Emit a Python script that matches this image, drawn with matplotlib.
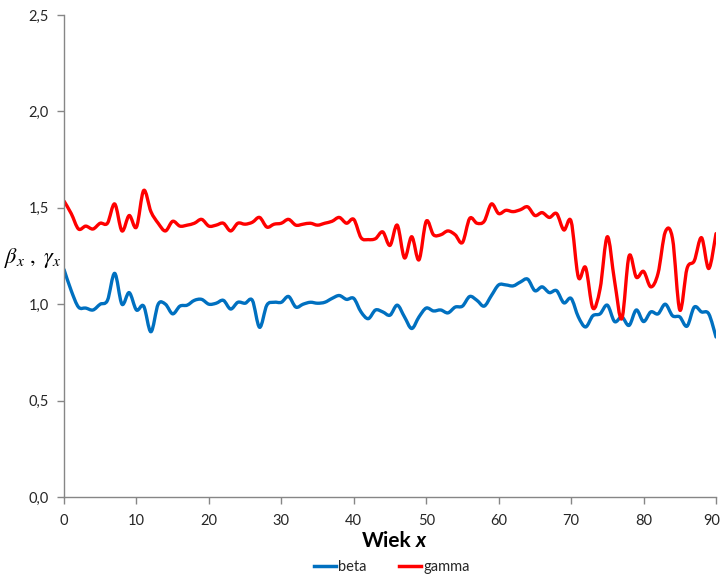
import numpy as np
import matplotlib
matplotlib.use("Agg")
import matplotlib.pyplot as plt
import matplotlib.transforms as mtransforms
from matplotlib.path import Path
from matplotlib.patches import PathPatch
from matplotlib.lines import Line2D
from matplotlib.ticker import FuncFormatter

ages = list(range(0, 91))

beta = [1.18, 1.07, 0.985, 0.98, 0.97, 1.00, 1.02, 1.16, 1.00, 1.06,
        0.97, 0.99, 0.857, 1.00, 1.00, 0.95, 0.99, 0.995, 1.02, 1.025,
        1.00, 1.005, 1.02, 0.975, 1.01, 1.005, 1.02, 0.88, 0.995, 1.01,
        1.01, 1.04, 0.985, 1.00, 1.01, 1.005, 1.01, 1.03, 1.045, 1.025,
        1.03, 0.96, 0.925, 0.97, 0.96, 0.943, 0.995, 0.934, 0.874, 0.934,
        0.98, 0.965, 0.97, 0.955, 0.985, 0.99, 1.04, 1.02, 0.99, 1.045,
        1.10, 1.10, 1.095, 1.115, 1.13, 1.07, 1.09, 1.06, 1.07, 1.007,
        1.03, 0.934, 0.882, 0.94, 0.95, 0.995, 0.91, 0.934, 0.89, 0.97,
        0.91, 0.96, 0.95, 1.00, 0.94, 0.934, 0.886, 0.985, 0.96, 0.95,
        0.83]

gamma = [1.535, 1.47, 1.39, 1.405, 1.39, 1.42, 1.42, 1.52, 1.38, 1.46,
         1.40, 1.59, 1.48, 1.42, 1.38, 1.43, 1.405, 1.41, 1.42, 1.44,
         1.405, 1.41, 1.42, 1.38, 1.42, 1.415, 1.425, 1.45, 1.40, 1.415,
         1.42, 1.44, 1.41, 1.415, 1.42, 1.41, 1.42, 1.43, 1.45, 1.42,
         1.44, 1.345, 1.335, 1.34, 1.375, 1.305, 1.41, 1.24, 1.35, 1.23,
         1.43, 1.36, 1.36, 1.38, 1.36, 1.32, 1.445, 1.42, 1.43, 1.52,
         1.47, 1.487, 1.48, 1.49, 1.505, 1.46, 1.475, 1.45, 1.47, 1.385,
         1.43, 1.14, 1.19, 0.98, 1.08, 1.35, 1.12, 0.925, 1.25, 1.14,
         1.17, 1.09, 1.16, 1.375, 1.34, 0.97, 1.185, 1.225, 1.345, 1.185,
         1.366]

x_ticks = [0, 10, 20, 30, 40, 50, 60, 70, 80, 90]
y_ticks = [0.0, 0.5, 1.0, 1.5, 2.0, 2.5]

BLUE = "#0070C0"
RED = "#FF0000"
AXIS_GREY = "#868686"
TEXT = "#262626"
FONT = "Lato"


def smooth_path(xs, ys, tension=1.0 / 6.0):
    """Catmull-Rom style smoothed curve expressed as cubic Bezier segments."""
    xs = np.asarray(xs, float)
    ys = np.asarray(ys, float)
    n = len(xs)
    verts = [(xs[0], ys[0])]
    codes = [Path.MOVETO]
    for i in range(n - 1):
        p0 = np.array([xs[max(i - 1, 0)], ys[max(i - 1, 0)]])
        p1 = np.array([xs[i], ys[i]])
        p2 = np.array([xs[i + 1], ys[i + 1]])
        p3 = np.array([xs[min(i + 2, n - 1)], ys[min(i + 2, n - 1)]])
        c1 = p1 + (p2 - p0) * tension
        c2 = p2 - (p3 - p1) * tension
        verts += [tuple(c1), tuple(c2), tuple(p2)]
        codes += [Path.CURVE4] * 3
    return Path(verts, codes)


plt.rcParams["mathtext.fontset"] = "stix"

fig = plt.figure(figsize=(7.22, 5.76), dpi=100)
ax = fig.add_axes([64 / 722, 79 / 576, 652 / 722, 482 / 576])

for series, color in ((beta, BLUE), (gamma, RED)):
    patch = PathPatch(smooth_path(ages, series), facecolor="none",
                      edgecolor=color, lw=2.4, capstyle="round",
                      joinstyle="round")
    ax.add_patch(patch)

ax.set_xlim(0, 90)
ax.set_ylim(0, 2.5)
ax.set_xticks(x_ticks)
ax.set_yticks(y_ticks)
ax.yaxis.set_major_formatter(FuncFormatter(lambda v, p: f"{v:.1f}".replace(".", ",")))

for side in ("top", "right"):
    ax.spines[side].set_visible(False)
for side in ("left", "bottom"):
    ax.spines[side].set_color(AXIS_GREY)
    ax.spines[side].set_linewidth(1.0)

ax.tick_params(axis="both", color=AXIS_GREY, length=5, width=1.0,
               labelcolor=TEXT, labelsize=10.5)
ax.tick_params(axis="x", pad=7)
ax.tick_params(axis="y", pad=6)
for lab in ax.get_xticklabels() + ax.get_yticklabels():
    lab.set_fontfamily(FONT)

# keep the last x tick label inside the canvas
last = ax.get_xticklabels()[-1]
last.set_transform(last.get_transform() +
                   mtransforms.ScaledTranslation(-4 / 100, 0, fig.dpi_scale_trans))

# axis title: "Wiek" in bold, variable x in bold italic
fig.text(412 / 722, 1 - 541 / 576, "Wiek", fontsize=15, fontweight="bold",
         family=FONT, ha="right", va="center", color="black")
fig.text(416 / 722, 1 - 541 / 576, "x", fontsize=15, fontweight="bold",
         fontstyle="italic", family=FONT, ha="left", va="center",
         color="black")

fig.text(33 / 722, 1 - 258 / 576, r"$\beta_x\ ,\ \gamma_x$", fontsize=16,
         ha="center", va="center", color="black")

handles = [Line2D([], [], color=BLUE, lw=2.5),
           Line2D([], [], color=RED, lw=2.5)]
leg = fig.legend(handles, ["beta", "gamma"], loc="center",
                 bbox_to_anchor=(392 / 722, 1 - 567 / 576), ncol=2,
                 frameon=False, handlelength=1.5, handletextpad=0.15,
                 columnspacing=2.2, prop={"family": FONT, "size": 10.5})
for t in leg.get_texts():
    t.set_color(TEXT)

fig.savefig("out.png", dpi=100, facecolor="white")
